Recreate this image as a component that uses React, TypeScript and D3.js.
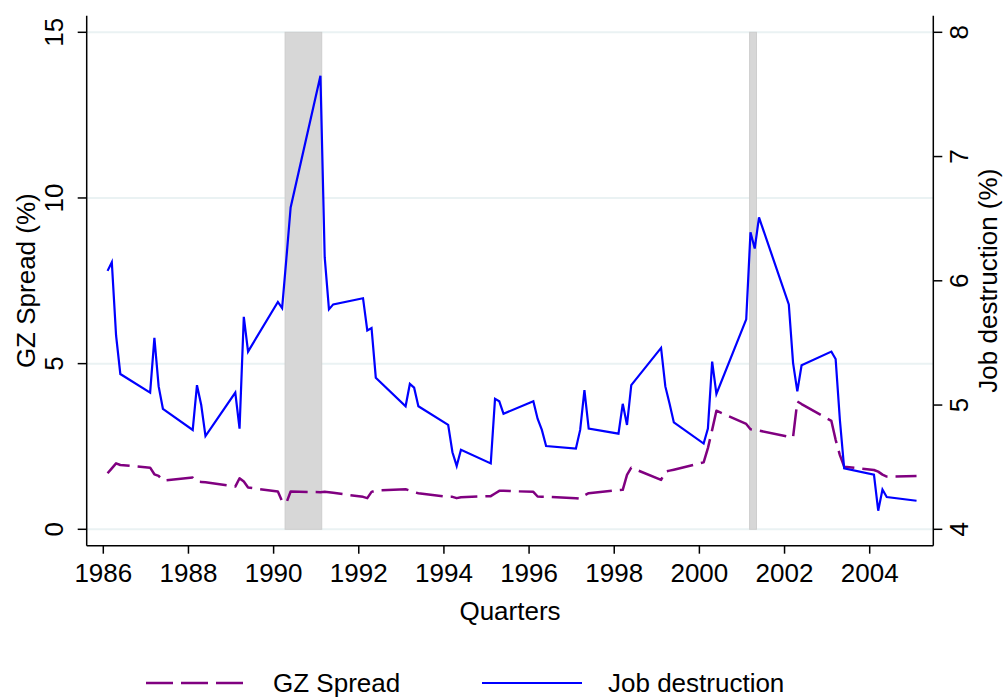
import React, { useEffect } from 'react';
import * as d3 from 'd3';

const W = 1003;
const H = 698;
const PLOT = { left: 86.7, right: 933.3, top: 15.7, bottom: 545.7 };
const FONT = '"Liberation Sans", Arial, Helvetica, sans-serif';

// dates are coded year + quarter/10 (as in the source data)
const quarters = [
  1986.1, 1986.2, 1986.3, 1986.4, 1987.1, 1987.2, 1987.3, 1987.4,
  1988.1, 1988.2, 1988.3, 1988.4, 1989.1, 1989.2, 1989.3, 1989.4,
  1990.1, 1990.2, 1990.3, 1990.4, 1991.1, 1991.2, 1991.3, 1991.4,
  1992.1, 1992.2, 1992.3, 1992.4, 1993.1, 1993.2, 1993.3, 1993.4,
  1994.1, 1994.2, 1994.3, 1994.4, 1995.1, 1995.2, 1995.3, 1995.4,
  1996.1, 1996.2, 1996.3, 1996.4, 1997.1, 1997.2, 1997.3, 1997.4,
  1998.1, 1998.2, 1998.3, 1998.4, 1999.1, 1999.2, 1999.3, 1999.4,
  2000.1, 2000.2, 2000.3, 2000.4, 2001.1, 2001.2, 2001.3, 2001.4,
  2002.1, 2002.2, 2002.3, 2002.4, 2003.1, 2003.2, 2003.3, 2003.4,
  2004.1, 2004.2, 2004.3, 2004.4, 2005.1,
];

const gzSpread = [
  1.69, 1.84, 1.99, 1.94, 1.86, 1.66, 1.61, 1.47,
  1.56, 1.44, 1.43, 1.42, 1.29, 1.54, 1.44, 1.26,
  1.14, 0.85, 0.80, 1.14, 1.12, 1.13, 1.12, 1.10,
  0.98, 0.94, 1.13, 1.17, 1.21, 1.17, 1.12, 1.09,
  0.98, 0.98, 0.94, 0.97, 1.00, 1.08, 1.16, 1.16,
  1.13, 0.99, 0.98, 0.98, 0.94, 0.92, 1.02, 1.09,
  1.18, 1.19, 1.64, 1.86, 1.49, 1.74, 1.77, 1.80,
  2.02, 2.45, 3.00, 3.58, 3.18, 3.02, 3.00, 2.98,
  2.79, 2.78, 3.86, 3.78, 3.27, 2.70, 2.24, 1.89,
  1.79, 1.74, 1.65, 1.59, 1.61,
];

const jobDestruction = [
  6.08, 6.15, 5.56, 5.25, 5.10, 5.54, 5.15, 4.97,
  4.80, 5.16, 5.00, 4.75, 5.10, 4.81, 5.71, 5.43,
  5.83, 5.78, 6.18, 6.59, 7.65, 6.19, 5.77, 5.81,
  5.86, 5.60, 5.62, 5.22, 4.99, 5.17, 5.14, 4.99,
  4.84, 4.62, 4.51, 4.64, 4.53, 5.05, 5.03, 4.93,
  5.03, 4.89, 4.80, 4.67, 4.65, 4.80, 5.12, 4.81,
  4.77, 5.01, 4.84, 5.16, 5.46, 5.15, 5.01, 4.86,
  4.69, 4.81, 5.35, 5.09, 5.69, 6.39, 6.26, 6.51,
  5.81, 5.34, 5.11, 5.32, 5.43, 5.37, 4.88, 4.49,
  4.44, 4.15, 4.32, 4.26, 4.23,
];

const recessions = [
  [1990.27, 1991.13],
  [2001.18, 2001.34],
];

const xTicks = [1986, 1988, 1990, 1992, 1994, 1996, 1998, 2000, 2002, 2004];
const gzTicks = [0, 5, 10, 15];
const jdTicks = [4, 5, 6, 7, 8];

export default function App() {
  useEffect(() => {
    document.body.style.margin = '0';
  }, []);

  const x = d3.scaleLinear().domain([1986, 2004]).range([103.3, 869.7]);
  const yL = d3.scaleLinear().domain([0, 15]).range([529.3, 32.3]);
  const yR = d3.scaleLinear().domain([4, 8]).range([529.3, 32.3]);
  const midY = (PLOT.top + PLOT.bottom) / 2;

  const gzPath = d3.line<number>()
    .x((_, i) => x(quarters[i]))
    .y(d => yL(d))(gzSpread);
  const jdPath = d3.line<number>()
    .x((_, i) => x(quarters[i]))
    .y(d => yR(d))(jobDestruction);

  const dash = '27 8';

  return (
    <svg width={W} height={H} style={{ display: 'block', background: '#fff' }} fontFamily={FONT}>
      {/* gridlines */}
      {gzTicks.map(t => (
        <line key={'g' + t} x1={PLOT.left} x2={PLOT.right} y1={yL(t)} y2={yL(t)}
          stroke="#eaf2f3" strokeWidth={2} />
      ))}

      {/* recession shading */}
      {recessions.map(([a, b]) => (
        <rect key={a} x={x(a)} width={x(b) - x(a)} y={yL(15)} height={yL(0) - yL(15)}
          fill="#d7d7d7" stroke="#cdcdcd" strokeWidth={1} />
      ))}

      <path d={gzPath || ''} fill="none" stroke="#800080" strokeWidth={2.5}
        strokeDasharray={dash} strokeLinejoin="round" />
      <path d={jdPath || ''} fill="none" stroke="#0000ff" strokeWidth={2.2}
        strokeLinejoin="miter" />

      {/* axes */}
      <g stroke="#000" strokeWidth={1.5}>
        <line x1={PLOT.left} x2={PLOT.left} y1={PLOT.top} y2={PLOT.bottom} />
        <line x1={PLOT.right} x2={PLOT.right} y1={PLOT.top} y2={PLOT.bottom} />
        <line x1={PLOT.left} x2={PLOT.right} y1={PLOT.bottom} y2={PLOT.bottom} />
        {gzTicks.map(t => (
          <line key={'lt' + t} x1={PLOT.left - 9} x2={PLOT.left} y1={yL(t)} y2={yL(t)} />
        ))}
        {jdTicks.map(t => (
          <line key={'rt' + t} x1={PLOT.right} x2={PLOT.right + 9} y1={yR(t)} y2={yR(t)} />
        ))}
        {xTicks.map(t => (
          <line key={'xt' + t} x1={x(t)} x2={x(t)} y1={PLOT.bottom} y2={PLOT.bottom + 8} />
        ))}
      </g>

      <g fontSize={26} fill="#000">
        {gzTicks.map(t => (
          <text key={'ll' + t} transform={`translate(63,${yL(t)}) rotate(-90)`} textAnchor="middle">{t}</text>
        ))}
        {jdTicks.map(t => (
          <text key={'rl' + t} transform={`translate(968,${yR(t)}) rotate(-90)`} textAnchor="middle">{t}</text>
        ))}
        {xTicks.map(t => (
          <text key={'xl' + t} x={x(t)} y={582} textAnchor="middle">{t}</text>
        ))}
        <text transform={`translate(35,${midY}) rotate(-90)`} textAnchor="middle">GZ Spread (%)</text>
        <text transform={`translate(997,${midY}) rotate(-90)`} textAnchor="middle">Job destruction (%)</text>
        <text x={(PLOT.left + PLOT.right) / 2} y={620} textAnchor="middle">Quarters</text>

        {/* legend */}
        <line x1={146} x2={245} y1={683} y2={683} stroke="#800080" strokeWidth={2.5} strokeDasharray={dash} />
        <text x={273} y={692}>GZ Spread</text>
        <line x1={482} x2={582} y1={683} y2={683} stroke="#0000ff" strokeWidth={2.2} />
        <text x={608} y={692}>Job destruction</text>
      </g>
    </svg>
  );
}
